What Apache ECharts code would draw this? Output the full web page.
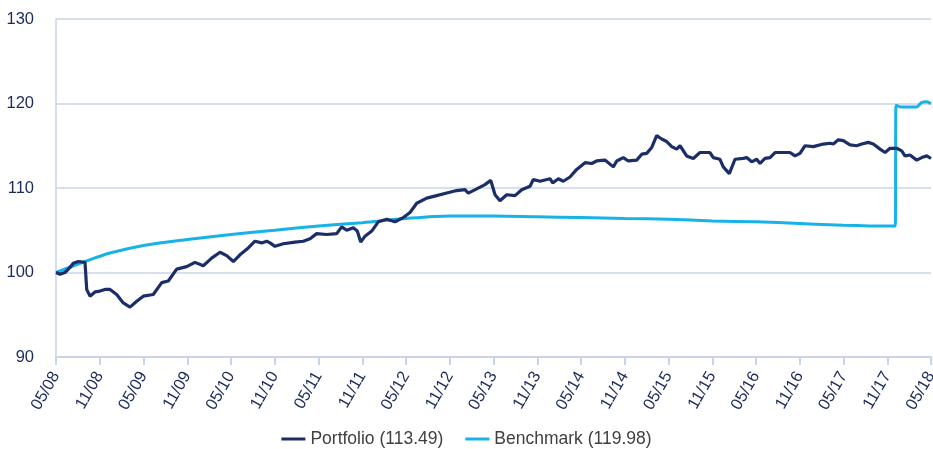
<!DOCTYPE html>
<html>
<head>
<meta charset="utf-8">
<script src="https://cdn.jsdelivr.net/npm/echarts@6/dist/echarts.min.js"></script>
<style>
  html, body { margin: 0; padding: 0; background: #fff; }
  #chart { width: 933px; height: 449px; }
</style>
</head>
<body>
<div id="chart"></div>
<script>
// x positions are months since 05/08
const portfolioMonths = [0, 0.55, 1.23, 1.92, 2.37, 3.06, 3.98, 4.21, 4.66, 5.35, 6.03, 6.72, 7.41, 8.32, 9.23, 10.15,
  11.07, 11.97, 13.34, 14.5, 15.4, 16.55, 17.92, 19.06, 20.2, 21.35, 22.49, 23.41, 24.32, 25.23, 26.37, 27.29,
  28.21, 28.9, 29.35, 30.03, 31.17, 32.78, 33.92, 34.84, 35.75, 37.12, 38.5, 39.18, 39.87, 40.77, 41.32, 41.79,
  42.38, 43.3, 44.2, 45.35, 46.49, 47.63, 48.55, 49.47, 50.84, 52.21, 53.58, 54.95, 56.09, 56.54, 57.7, 58.83,
  59.62, 60.21, 60.89, 61.81, 62.95, 63.87, 65.01, 65.46, 66.38, 67.75, 68.12, 68.89, 69.57, 70.49, 71.41, 72.55,
  73.47, 74.15, 75.29, 76.43, 76.9, 77.8, 78.49, 79.64, 80.33, 81.01, 81.7, 82.38, 83.07, 83.75, 84.44, 85.12,
  85.58, 86.49, 87.4, 88.32, 89.69, 90.14, 91.06, 91.51, 92.34, 93.12, 94.26, 94.72, 95.41, 96.1, 96.55, 97.24,
  97.92, 98.61, 99.74, 100.66, 101.35, 102.03, 102.72, 103.86, 105.23, 106.15, 106.6, 107.29, 107.97, 108.89,
  109.81, 110.5, 111.4, 112.09, 113.01, 113.7, 114.38, 115.3, 115.98, 116.43, 117.12, 118.04, 118.73, 119.42, 120];
const portfolioValues = [100.0, 99.8, 100.0, 100.6, 101.1, 101.3, 101.2, 98.0, 97.2, 97.7, 97.8, 98.0, 98.0, 97.4, 96.4, 95.9,
  96.6, 97.2, 97.4, 98.8, 99.0, 100.4, 100.7, 101.2, 100.8, 101.7, 102.4, 102.0, 101.3, 102.1, 102.9, 103.7,
  103.5, 103.7, 103.5, 103.1, 103.4, 103.6, 103.7, 104.0, 104.6, 104.5, 104.6, 105.4, 105.0, 105.3, 104.9, 103.6,
  104.3, 104.9, 106.0, 106.3, 106.0, 106.5, 107.1, 108.2, 108.8, 109.1, 109.4, 109.7, 109.8, 109.4, 109.9, 110.4,
  110.9, 109.2, 108.5, 109.2, 109.1, 109.8, 110.2, 111.0, 110.8, 111.1, 110.6, 111.1, 110.8, 111.3, 112.2, 113.0,
  112.9, 113.2, 113.3, 112.5, 113.2, 113.6, 113.2, 113.3, 114.0, 114.1, 114.8, 116.2, 115.8, 115.5, 114.9, 114.6,
  115.0, 113.8, 113.5, 114.2, 114.2, 113.6, 113.4, 112.5, 111.7, 113.4, 113.5, 113.6, 113.1, 113.4, 112.9, 113.5,
  113.6, 114.2, 114.2, 114.2, 113.8, 114.1, 115.0, 114.9, 115.2, 115.3, 115.2, 115.7, 115.6, 115.1,
  115.0, 115.2, 115.4, 115.2, 114.6, 114.2, 114.7, 114.7, 114.4, 113.8, 113.9, 113.3, 113.6, 113.8, 113.49];

const benchmarkMonths = [0, 4, 7.4, 12, 18, 24, 30, 36, 42, 48, 54, 60, 66, 72, 78, 84, 90, 96, 102, 108, 114, 115.1,
  115.2, 115.8, 117, 118, 118.7, 119.4, 120];
const benchmarkValues = [100.0, 101.3, 102.3, 103.2, 103.9, 104.5, 105.0, 105.5, 105.9, 106.4, 106.7, 106.7, 106.6,
  106.5, 106.4, 106.3, 106.1, 106.0, 105.8, 105.6, 105.5, 105.5, 119.8, 119.6, 119.6, 119.6, 120.1, 120.2, 119.98];

const seriesNames = ['Portfolio (113.49)', 'Benchmark (119.98)'];
const startYear = 2008, startMonth = 5;

function pairs(xs, ys) {
  return xs.map((x, i) => [x, ys[i]]);
}

function monthLabel(v) {
  const total = startYear * 12 + (startMonth - 1) + Math.round(v);
  const m = total % 12 + 1;
  const y = Math.floor(total / 12) % 100;
  return String(m).padStart(2, '0') + '/' + String(y).padStart(2, '0');
}

const chart = echarts.init(document.getElementById('chart'));
const font = 'Liberation Sans, Arial, sans-serif';
const axisColor = '#c9d4e4';
const labelColor = '#1c2b5a';

chart.setOption({
  animation: false,
  textStyle: { fontFamily: font },
  grid: { left: 56, right: 2, top: 19, bottom: 92, outerBoundsMode: 'none', containLabel: false },
  legend: {
    top: 425,
    left: 'center',
    icon: 'rect',
    itemWidth: 24,
    itemHeight: 3,
    itemGap: 22,
    textStyle: { fontSize: 17.5, color: '#404040', fontFamily: font },
    data: seriesNames
  },
  xAxis: {
    type: 'value',
    min: 0,
    max: 120,
    interval: 6,
    axisLine: { lineStyle: { color: axisColor, width: 2 } },
    axisTick: { show: true, length: 8, lineStyle: { color: axisColor, width: 2 } },
    splitLine: { show: false },
    axisLabel: {
      rotate: 60,
      fontSize: 16.5,
      color: labelColor,
      margin: 16,
      formatter: monthLabel
    }
  },
  yAxis: {
    type: 'value',
    min: 90,
    max: 130,
    interval: 10,
    axisLine: { show: true, lineStyle: { color: axisColor, width: 1.5 } },
    axisTick: { show: false },
    splitLine: { lineStyle: { color: axisColor, width: 1.5 } },
    axisLabel: { fontSize: 16.5, color: labelColor, margin: 22 }
  },
  series: [
    {
      name: seriesNames[0],
      type: 'line',
      data: pairs(portfolioMonths, portfolioValues),
      showSymbol: false,
      lineStyle: { color: '#1b2e68', width: 3.2 },
      itemStyle: { color: '#1b2e68' },
      z: 3
    },
    {
      name: seriesNames[1],
      type: 'line',
      data: pairs(benchmarkMonths, benchmarkValues),
      showSymbol: false,
      smooth: 0.3,
      lineStyle: { color: '#17b2e8', width: 3 },
      itemStyle: { color: '#17b2e8' },
      z: 2
    }
  ]
});
</script>
</body>
</html>
